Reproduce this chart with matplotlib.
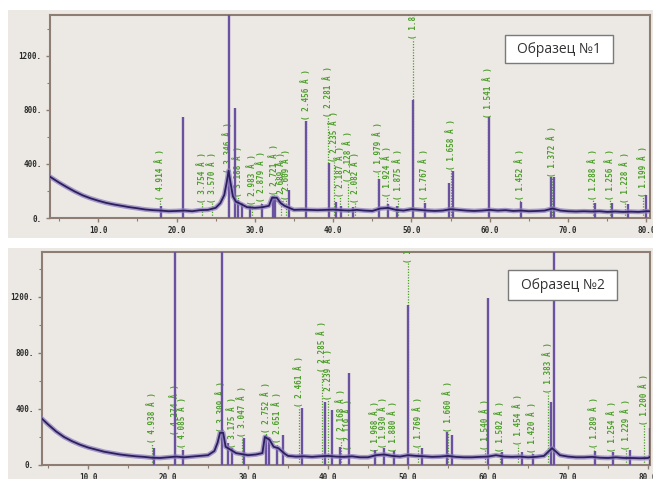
import matplotlib
matplotlib.use("Agg")
import matplotlib.pyplot as plt
from matplotlib.patches import Rectangle

# ---------------- DATA: sample 1 (top) ----------------
bg1_x = [3.85, 5, 6, 7, 8, 9, 10, 11, 12, 13, 14, 15, 16, 17, 18, 19, 20, 21, 22, 23, 24, 25,
         25.6, 26.1, 26.4, 26.65, 26.9, 27.2, 27.6, 28, 28.5, 29, 30, 31, 31.8, 32.2, 32.8, 33.3,
         33.8, 34.6, 35, 36, 37, 38, 39, 40, 41, 42, 43, 44, 45, 46, 47, 48, 49, 50, 51, 52, 53,
         54, 55, 56, 57, 58, 59, 60, 61, 62, 63, 64, 65, 66, 67, 68, 69, 70, 71, 72, 73, 74, 75,
         76, 77, 78, 79, 80, 80.45]
bg1_y = [305, 262, 228, 196, 168, 146, 128, 112, 100, 90, 80, 72, 63, 58, 55, 50, 52, 55, 50, 58, 60, 75,
         110, 170, 260, 350, 260, 160, 120, 110, 95, 80, 75, 80, 90, 150, 150, 110,
         90, 70, 60, 62, 60, 58, 60, 62, 58, 55, 60, 55, 52, 70, 75, 60, 55, 65, 60, 55, 52,
         55, 65, 60, 55, 52, 55, 60, 55, 58, 52, 55, 50, 52, 55, 70, 55, 50, 48, 50, 48, 50, 45,
         48, 45, 47, 45, 50, 50]
pk1_x = [18.0, 20.8, 26.65, 27.5, 27.9, 28.3, 29.4, 30.9, 32.3, 32.6, 34.3, 36.55, 39.45, 40.3,
         41.0, 42.5, 45.8, 47.0, 48.2, 50.15, 51.7, 54.85, 55.35, 59.95, 64.0, 67.75, 68.15,
         73.45, 75.65, 77.65, 79.9]
pk1_h = [85, 750, 1600, 810, 130, 110, 90, 100, 160, 150, 210, 715, 410, 120,
         90, 80, 290, 100, 90, 875, 110, 260, 345, 745, 120, 305, 305,
         110, 110, 100, 170]
lb1_x = [17.9, 23.2, 24.5, 26.6, 27.8, 29.7, 30.8, 32.4, 33.3, 34.0, 36.5, 39.3, 40.1, 40.9,
         41.9, 42.8, 45.7, 46.9, 48.3, 50.15, 51.6, 55.0, 59.8, 63.8, 68.0, 73.2, 75.4, 77.3, 79.6]
lb1_t = ["4.914", "3.754", "3.570", "3.346", "3.188", "2.983", "2.879", "2.721", "2.689", "2.609",
         "2.456", "2.281", "2.235", "2.187", "2.128", "2.082", "1.979", "1.924", "1.875", "1.818",
         "1.767", "1.658", "1.541", "1.452", "1.372", "1.288", "1.256", "1.228", "1.199"]
lb1_b = [133, 111, 111, 333, 156, 96, 119, 170, 111, 133, 726, 748, 415, 156,
         267, 111, 333, 156, 133, 1320, 133, 356, 741, 133, 304, 133, 133, 111, 156]

# ---------------- DATA: sample 2 (bottom) ----------------
bg2_x = [4.25, 5, 6, 7, 8, 9, 10, 11, 12, 13, 14, 15, 16, 17, 18, 19, 20, 21, 22, 23, 24, 25,
         25.8, 26.2, 26.5, 26.9, 27.2, 27.8, 28.5, 29, 30, 31, 31.8, 32.1, 32.7, 33.2, 33.8,
         34.6, 35, 36, 37, 38, 39, 40, 41, 42, 43, 44, 45, 46, 47, 48, 49, 50, 51, 52, 53, 54,
         55, 56, 57, 58, 59, 60, 61, 62, 63, 64, 65, 66, 67, 68, 68.6, 69, 70, 71, 72, 73, 74,
         75, 76, 77, 78, 79, 80, 80.3]
bg2_y = [330, 290, 240, 200, 170, 145, 125, 110, 95, 85, 75, 68, 62, 58, 52, 50, 55, 60, 55, 60, 65, 70,
         100, 160, 230, 230, 130, 110, 85, 80, 70, 75, 85, 200, 180, 130, 120,
         80, 65, 60, 62, 58, 62, 65, 60, 58, 62, 55, 55, 70, 75, 65, 60, 70, 65, 62, 58, 60,
         65, 58, 55, 55, 58, 60, 70, 60, 58, 60, 55, 58, 65, 120, 90, 70, 60, 55, 55, 58, 52,
         50, 55, 50, 50, 48, 50, 60]
pk2_x = [18.2, 20.9, 21.9, 26.7, 27.5, 28.0, 29.5, 32.3, 32.6, 33.6, 34.4, 36.7, 39.6, 40.5,
         41.5, 42.6, 45.9, 47.0, 48.2, 50.0, 51.8, 54.9, 55.5, 60.0, 61.7, 64.2, 65.6, 67.9,
         68.2, 73.4, 75.6, 77.7, 80.2]
pk2_h = [120, 1600, 110, 1600, 160, 120, 195, 215, 200, 130, 215, 410, 450, 395,
         130, 655, 110, 120, 100, 1145, 120, 235, 215, 1190, 95, 95, 80, 450,
         1600, 100, 90, 110, 265]
lb2_x = [18.0, 20.9, 21.8, 26.6, 28.0, 29.2, 32.25, 33.6, 36.4, 39.2, 40.0, 41.6, 42.45, 45.9,
         46.9, 48.1, 50.0, 51.3, 55.0, 59.6, 61.5, 63.8, 65.5, 67.5, 73.25, 75.5, 77.3, 79.5]
lb2_t = ["4.938", "4.274", "4.085", "3.309", "3.175", "3.047", "2.752", "2.651", "2.461", "2.285",
         "2.239", "2.168", "2.119", "1.968", "1.930", "1.880", "1.818", "1.769", "1.660", "1.540",
         "1.502", "1.454", "1.420", "1.383", "1.289", "1.254", "1.229", "1.200"]
lb2_b = [157, 214, 121, 236, 121, 200, 229, 157, 414, 664, 464, 178, 107, 93,
         121, 93, 1442, 121, 236, 107, 93, 143, 86, 514, 121, 93, 107, 286]

x_ticks = [10, 20, 30, 40, 50, 60, 70, 80]
x_tick_labels = ["10.0", "20.0", "30.0", "40.0", "50.0", "60.0", "70.0", "80.0"]
y_ticks = [0, 400, 800, 1200]
y_tick_labels = ["0.", "400.", "800.", "1200."]
titles = ["Образец №1", "Образец №2"]

# ---------------- STYLE ----------------
PANEL = "#ece9e4"
SPINE = "#8d7d73"
GREEN = "#4e9e2c"
STICK = "#6a52a0"
LINE_DARK = "#2b205c"
LINE_LIGHT = "#8f7ec2"
MONO = "DejaVu Sans Mono"

fig = plt.figure(figsize=(6.53, 4.79), dpi=100)
fig.patch.set_facecolor("white")
fig.add_artist(Rectangle((8 / 653, (479 - 238) / 479), 645 / 653, 228 / 479,
                         transform=fig.transFigure, facecolor=PANEL, edgecolor="none", zorder=0))
fig.add_artist(Rectangle((8 / 653, 0), 645 / 653, 231 / 479,
                         transform=fig.transFigure, facecolor=PANEL, edgecolor="none", zorder=0))

ax1 = fig.add_axes([50 / 653, (479 - 218) / 479, 600 / 653, 203 / 479])
ax2 = fig.add_axes([42 / 653, 14 / 479, 608 / 653, 213 / 479])


def draw(ax, bx, by, px, ph, lx, lt, lb, xlim, ylim, title, box):
    ax.set_facecolor(PANEL)
    ax.set_xlim(*xlim)
    ax.set_ylim(*ylim)
    # green marker lines + labels
    ax.vlines(lx, 0, lb, colors=GREEN, linestyles=(0, (1, 1.2)), linewidth=0.9, zorder=2)
    for x, t, b in zip(lx, lt, lb):
        ax.text(x, b, "( %s Å )" % t, rotation=90, ha="center", va="bottom",
                fontsize=5.5, fontfamily=MONO, fontweight="bold", color=GREEN,
                clip_on=True, zorder=3)
    # peaks
    ax.vlines(px, 0, ph, colors=STICK, linewidth=1.7, zorder=4)
    # background trace
    ax.plot(bx, by, color=LINE_LIGHT, linewidth=3.4, alpha=0.75, zorder=5,
            solid_joinstyle="round")
    ax.plot(bx, by, color=LINE_DARK, linewidth=1.3, zorder=6)
    # ticks
    ax.set_xticks(x_ticks)
    ax.set_xticklabels(x_tick_labels)
    ax.set_xticks([5, 15, 25, 35, 45, 55, 65, 75], minor=True)
    ax.set_yticks(y_ticks)
    ax.set_yticklabels(y_tick_labels)
    ax.set_yticks([200, 600, 1000, 1400], minor=True)
    ax.tick_params(axis="both", which="major", length=3, width=1, color=SPINE,
                   labelsize=5.5, pad=3, labelcolor="#2a2a2a")
    ax.tick_params(axis="both", which="minor", length=2, width=0.8, color=SPINE)
    for lab in ax.get_xticklabels() + ax.get_yticklabels():
        lab.set_fontfamily(MONO)
        lab.set_fontweight("bold")
    for s in ax.spines.values():
        s.set_color(SPINE)
        s.set_linewidth(1.5)
    # sample label box
    x0, y0, x1, y1 = box
    ax.add_patch(Rectangle((x0, y0), x1 - x0, y1 - y0, transform=ax.transAxes,
                           facecolor="white", edgecolor="#7a7a7a", linewidth=1.0, zorder=8))
    ax.text((x0 + x1) / 2, (y0 + y1) / 2, title, transform=ax.transAxes, ha="center",
            va="center", fontsize=10, fontfamily="Open Sans", color="#333333", zorder=9)


draw(ax1, bg1_x, bg1_y, pk1_x, pk1_h, lb1_x, lb1_t, lb1_b, (3.85, 80.45), (0, 1500),
     titles[0], (0.758, 0.764, 0.938, 0.901))
draw(ax2, bg2_x, bg2_y, pk2_x, pk2_h, lb2_x, lb2_t, lb2_b, (4.25, 80.25), (0, 1520),
     titles[1], (0.766, 0.775, 0.946, 0.915))

fig.savefig("out.png", dpi=100, facecolor=fig.get_facecolor())
